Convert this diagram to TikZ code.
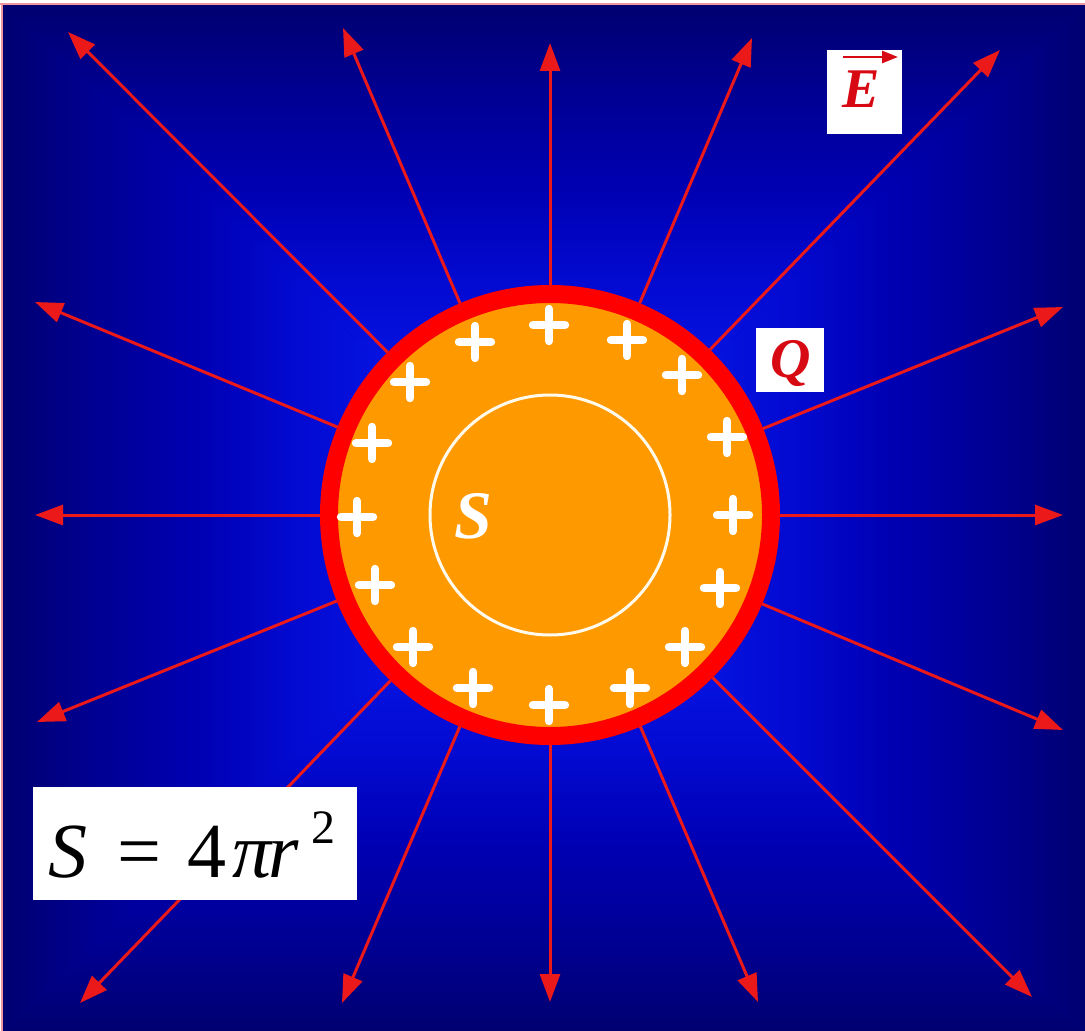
\documentclass[tikz,border=0pt]{standalone}
\usepackage{fontspec}
\setmainfont{Liberation Serif}
\usetikzlibrary{arrows.meta}
\definecolor{arrred}{RGB}{235,25,25}
\definecolor{ringred}{RGB}{255,0,0}
\definecolor{sorange}{RGB}{255,153,0}
\definecolor{txtred}{RGB}{215,10,20}
\definecolor{framepink}{RGB}{240,150,160}
\definecolor{cream}{RGB}{255,250,235}
\definecolor{basenavy}{rgb}{0,0,0.62}
\pgfdeclareverticalshading{bgsh}{100bp}{rgb(0bp)=(0,0,0.44); rgb(25bp)=(0,0,0.44); rgb(34bp)=(0,0,0.58); rgb(43bp)=(0,0,0.7); rgb(52bp)=(0.01,0.04,0.82); rgb(60bp)=(0.02,0.07,0.88); rgb(75bp)=(0.03,0.09,0.92); rgb(100bp)=(0.03,0.09,0.92)}
\tikzset{
  farrow/.style={draw=arrred, line width=1.5pt, -{Triangle[length=14pt,width=10pt]}},
  plussign/.style={draw=white, line width=4.2pt, line cap=round},
  whitebox/.style={fill=white, inner sep=0pt},
  redlabel/.style={text=txtred, font=\fontsize{28pt}{30pt}\selectfont\bfseries\itshape, inner sep=0pt}
}
\begin{document}
\begin{tikzpicture}[x=0.5pt,y=-0.5pt]
\useasboundingbox (0,0) rectangle (1085,1031);
\fill[white] (0,0) rectangle (1085,1031);
\fill[basenavy] (2.5,4.5) rectangle (1085,1031);
% rectangular gradient background (four triangles)
\coordinate (bgc) at (544,518);
\shade[shading=bgsh, shading angle=180] (bgc) -- (2.5,4.5) -- (1085,4.5) -- cycle;
\shade[shading=bgsh, shading angle=0] (bgc) -- (1085,1031) -- (2.5,1031) -- cycle;
\shade[shading=bgsh, shading angle=270] (bgc) -- (2.5,1031) -- (2.5,4.5) -- cycle;
\shade[shading=bgsh, shading angle=90] (bgc) -- (1085,4.5) -- (1085,1031) -- cycle;
\draw[framepink, line width=1pt] (0,4) -- (1085,4);
\draw[framepink, line width=1pt] (1.5,4) -- (1.5,1031);

% sphere
\node[circle, draw=ringred, fill=sorange, line width=9pt, minimum size=221pt, inner sep=0pt] (sph) at (550,515) {};

% arrow end points
\coordinate (e0) at (1063,515);
\coordinate (e1) at (1063,307);
\coordinate (e2) at (1000,50);
\coordinate (e3) at (752,38);
\coordinate (e4) at (550,43);
\coordinate (e5) at (343,28);
\coordinate (e6) at (68,32);
\coordinate (e7) at (35,302);
\coordinate (e8) at (35,515);
\coordinate (e9) at (37,722);
\coordinate (e10) at (80,1003);
\coordinate (e11) at (342,1003);
\coordinate (e12) at (550,1002);
\coordinate (e13) at (758,1002);
\coordinate (e14) at (1032,997);
\coordinate (e15) at (1063,730);
\foreach \i in {0,...,15} \draw[farrow] (sph) -- (e\i);

% gaussian surface
\node[circle, draw=cream, line width=1.5pt, minimum size=120pt, inner sep=0pt] (gauss) at (550,515) {};
\node[text=white, font=\fontsize{34pt}{36pt}\selectfont\bfseries\itshape, inner sep=0pt, anchor=base] (slabel) at (473,538) {S};

% charges
\foreach \x/\y in {549/325, 475/342, 627/340, 410/382, 682/375, 372/443, 727/437, 357/517, 733/515, 375/585, 720/588, 413/647, 685/647, 473/688, 630/688, 549/705}
  \draw[plussign] (\x-16,\y) -- (\x+16,\y) (\x,\y-16) -- (\x,\y+16);

% labels
\node[whitebox, minimum width=37.5pt, minimum height=42pt] (Ebox) at (864.5,92) {};
\node[redlabel, anchor=base] (Elabel) at (861,108) {E};
\coordinate (ea) at (843,57);
\coordinate (eb) at (898,57);
\draw[txtred, line width=1.3pt, -{Triangle[length=8pt,width=6pt]}] (ea) -- (eb);

\node[whitebox, minimum width=34pt, minimum height=32pt] (Qbox) at (790,360) {};
\node[redlabel, anchor=base] (Qlabel) at (791,378) {Q};

\node[whitebox, minimum width=162pt, minimum height=56.5pt] (fbox) at (195,843.5) {};
\node[inner sep=0pt, anchor=base west, font=\fontsize{39pt}{41pt}\selectfont] (formula) at (48,877)
  {\textit{S}\hspace{15pt}=\hspace{13pt}4\kern3pt\textit{π\kern-1.5pt r}\hspace{6pt}\raisebox{17pt}{\fontsize{24pt}{24pt}\selectfont 2}};
\end{tikzpicture}
\end{document}
